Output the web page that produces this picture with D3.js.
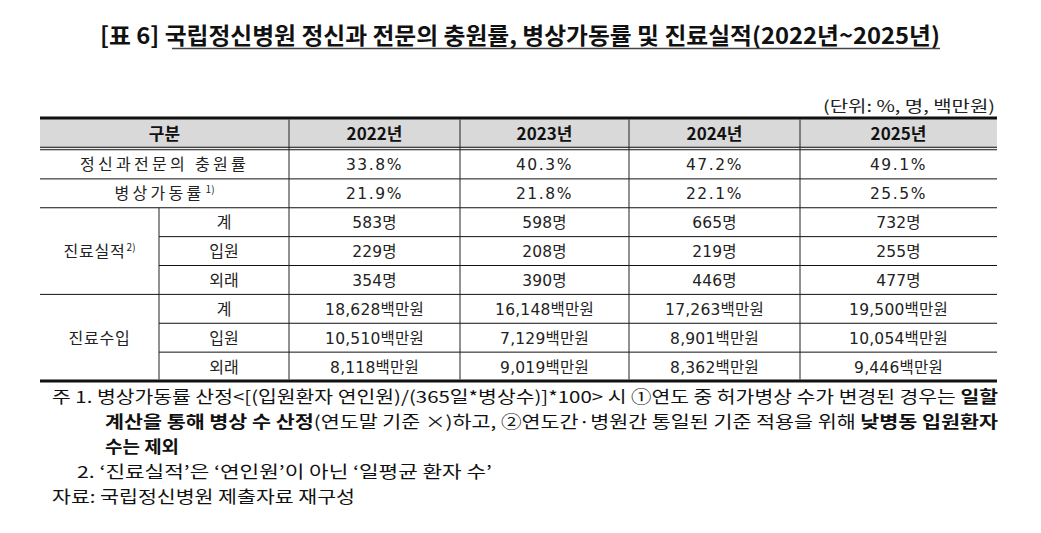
<!DOCTYPE html>
<html><head><meta charset="utf-8">
<script src="https://cdn.jsdelivr.net/npm/d3@7"></script>
<style>
html,body{margin:0;padding:0;background:#fff;}
svg{display:block;font-family:"Noto Sans CJK KR","Noto Sans",sans-serif;}
</style></head>
<body><svg id="c" width="1041" height="533"></svg>
<script>
// ---- data ----
const titlePrefix = "[표 6]";
const titleMain = "국립정신병원 정신과 전문의 충원률, 병상가동률 및 진료실적(2022년~2025년)";
const unitLabel = "(단위: %, 명, 백만원)";
const years = ["2022년", "2023년", "2024년", "2025년"];
const fillRate = [33.8, 40.3, 47.2, 49.1];
const bedRate = [21.9, 21.8, 22.1, 25.5];
const patientsTotal = [583, 598, 665, 732];
const patientsIn = [229, 208, 219, 255];
const patientsOut = [354, 390, 446, 477];
const revenueTotal = [18628, 16148, 17263, 19500];
const revenueIn = [10510, 7129, 8901, 10054];
const revenueOut = [8118, 9019, 8362, 9446];
const subLabels = ["계", "입원", "외래"];

const fmtPct = d => d.toFixed(1) + "%";
const fmtPer = d => d3.format(",")(d) + "명";
const fmtWon = d => d3.format(",")(d) + "백만원";

const rows = [
  {group: "정신과전문의 충원률", sup: null, sub: null, vals: fillRate, fmt: fmtPct, spaced: true},
  {group: "병상가동률", sup: "1)", sub: null, vals: bedRate, fmt: fmtPct, spaced: true},
  {group: "진료실적", sup: "2)", sub: subLabels[0], vals: patientsTotal, fmt: fmtPer},
  {group: "진료실적", sup: "2)", sub: subLabels[1], vals: patientsIn, fmt: fmtPer},
  {group: "진료실적", sup: "2)", sub: subLabels[2], vals: patientsOut, fmt: fmtPer},
  {group: "진료수입", sup: null, sub: subLabels[0], vals: revenueTotal, fmt: fmtWon},
  {group: "진료수입", sup: null, sub: subLabels[1], vals: revenueIn, fmt: fmtWon},
  {group: "진료수입", sup: null, sub: subLabels[2], vals: revenueOut, fmt: fmtWon}
];

// ---- layout ----
const svg = d3.select("#c");
const L = 40, R = 997, subX = 159;
const colEdges = [289, 460, 629, 800, 997];
const headTop = 118, headBot = 148.5, tableBot = 381;
const y = d3.scaleBand().domain(d3.range(rows.length)).range([150, tableBot]);
const colMid = i => (colEdges[i] + colEdges[i + 1]) / 2;
const bodyFont = "'DejaVu Sans','Noto Sans CJK KR',sans-serif";

// title
const tt = svg.append("text").attr("x", 100).attr("y", 44)
  .attr("font-size", 23).attr("font-weight", 700).attr("fill", "#111")
  .attr("textLength", 840).attr("lengthAdjust", "spacingAndGlyphs");
tt.append("tspan").text(titlePrefix + " ");
tt.append("tspan").text(titleMain);
svg.append("line").attr("x1", 172).attr("x2", 940).attr("y1", 48.5).attr("y2", 48.5)
  .attr("stroke", "#444").attr("stroke-width", 1.6);

// unit
svg.append("text").attr("x", 995).attr("y", 112).attr("text-anchor", "end")
  .attr("font-size", 15.5).attr("fill", "#222")
  .attr("textLength", 172).attr("lengthAdjust", "spacingAndGlyphs").text(unitLabel);

// header fill
svg.append("rect").attr("x", L).attr("y", headTop).attr("width", R - L).attr("height", headBot - headTop)
  .attr("fill", "#d9d9d9");

// header text
const hy = (headTop + headBot) / 2 + 6.5;
svg.append("text").attr("x", (L + colEdges[0]) / 2).attr("y", hy).attr("text-anchor", "middle")
  .attr("font-size", 17).attr("font-weight", 700).attr("fill", "#111").text("구분");
svg.selectAll("text.yr").data(years).join("text").attr("class", "yr")
  .attr("x", (d, i) => colMid(i)).attr("y", hy).attr("text-anchor", "middle")
  .attr("font-size", 17).attr("font-weight", 700).attr("fill", "#111").text(d => d);

// body values
rows.forEach((r, ri) => {
  const cy = y(ri) + y.bandwidth() / 2 + 6;
  svg.selectAll(null).data(r.vals).join("text")
    .attr("x", (d, i) => colMid(i)).attr("y", cy).attr("text-anchor", "middle")
    .attr("font-family", bodyFont)
    .attr("font-size", 15.5).attr("fill", "#222")
    .attr("letter-spacing", r.spaced ? 1.6 : 0.2)
    .text(d => r.fmt(d));
  if (r.sub) {
    svg.append("text").attr("x", (subX + colEdges[0]) / 2).attr("y", cy).attr("text-anchor", "middle")
      .attr("font-size", 16).attr("fill", "#222").text(r.sub);
  }
});

// group labels
const groups = d3.groups(rows.map((r, i) => ({...r, i})), d => d.group);
groups.forEach(([name, items]) => {
  const first = items[0], last = items[items.length - 1];
  const cy = (y(first.i) + y(last.i) + y.bandwidth()) / 2 + 6;
  const cx = first.sub ? (L + subX) / 2 : (L + colEdges[0]) / 2;
  const t = svg.append("text").attr("x", cx).attr("y", cy).attr("text-anchor", "middle")
    .attr("font-size", 16).attr("fill", "#222")
    .attr("letter-spacing", first.spaced ? 3.3 : 0.8);
  t.append("tspan").text(name);
  if (first.sup) t.append("tspan").attr("font-size", 10).attr("dy", -6).attr("dx", 1).attr("letter-spacing", 0).text(first.sup);
});

// horizontal lines
const hl = (x1, x2, yy, w, c) => svg.append("line").attr("x1", x1).attr("x2", x2)
  .attr("y1", yy).attr("y2", yy).attr("stroke", c || "#111").attr("stroke-width", w);
hl(L, R, headTop, 3);
hl(L, R, headBot - 1.3, 1.1);
hl(L, R, headBot + 1.3, 1.1);
rows.forEach((r, ri) => {
  if (ri === 0) return;
  const prev = rows[ri - 1];
  const sameGroup = prev.group === r.group && r.sub;
  hl(sameGroup ? subX : L, R, y(ri), 1);
});
hl(L, R, tableBot, 3);

// vertical lines
colEdges.slice(0, -1).forEach(x => {
  svg.append("line").attr("x1", x).attr("x2", x).attr("y1", headTop + 1.5).attr("y2", tableBot - 1.5)
    .attr("stroke", "#222").attr("stroke-width", 1);
});
svg.append("line").attr("x1", subX).attr("x2", subX).attr("y1", y(2)).attr("y2", tableBot - 1.5)
  .attr("stroke", "#222").attr("stroke-width", 1);

// notes
const noteFont = 16.5;
const n1 = svg.append("text").attr("x", 52).attr("y", 403).attr("font-size", noteFont).attr("fill", "#111")
  .attr("textLength", 946).attr("lengthAdjust", "spacingAndGlyphs");
n1.append("tspan").text("주 1. 병상가동률 산정<[(입원환자 연인원)/(365일*병상수)]*100> 시 ①연도 중 허가병상 수가 변경된 경우는 ");
n1.append("tspan").attr("font-weight", 700).text("일할");
const n2 = svg.append("text").attr("x", 105).attr("y", 428).attr("font-size", noteFont).attr("fill", "#111")
  .attr("textLength", 893).attr("lengthAdjust", "spacingAndGlyphs");
n2.append("tspan").attr("font-weight", 700).text("계산을 통해 병상 수 산정");
n2.append("tspan").text("(연도말 기준 ×)하고, ②연도간·병원간 통일된 기준 적용을 위해 ");
n2.append("tspan").attr("font-weight", 700).text("낮병동 입원환자");
svg.append("text").attr("x", 105).attr("y", 453).attr("font-size", noteFont + 0.5).attr("font-weight", 700)
  .attr("fill", "#111").attr("textLength", 74).attr("lengthAdjust", "spacingAndGlyphs").text("수는 제외");
svg.append("text").attr("x", 77).attr("y", 478).attr("font-size", noteFont).attr("fill", "#111")
  .attr("textLength", 415).attr("lengthAdjust", "spacingAndGlyphs")
  .text("2. ‘진료실적’은 ‘연인원’이 아닌 ‘일평균 환자 수’");
svg.append("text").attr("x", 52).attr("y", 503).attr("font-size", noteFont).attr("fill", "#111")
  .attr("textLength", 303).attr("lengthAdjust", "spacingAndGlyphs")
  .text("자료: 국립정신병원 제출자료 재구성");
</script></body></html>
